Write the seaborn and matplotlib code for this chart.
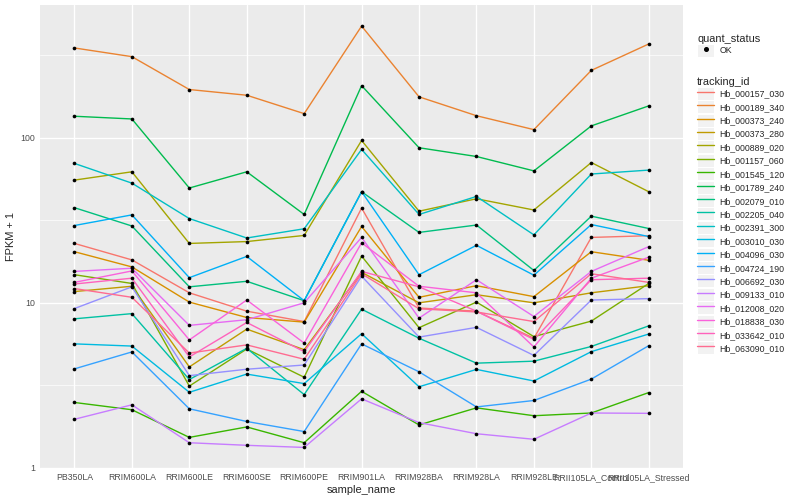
import matplotlib
matplotlib.use("Agg")
import matplotlib.pyplot as plt
from matplotlib.lines import Line2D
from matplotlib.patches import Rectangle
from matplotlib.legend_handler import HandlerLine2D
from matplotlib.ticker import FixedLocator, FixedFormatter
import numpy as np
import pandas as pd
import seaborn as sns

samples = ["PB350LA", "RRIM600LA", "RRIM600LE", "RRIM600SE", "RRIM600PE",
           "RRIM901LA", "RRIM928BA", "RRIM928LA", "RRIM928LE",
           "RRII105LA_Control", "RRII105LA_Stressed"]

tracking_ids = ["Hb_000157_030", "Hb_000189_340", "Hb_000373_240", "Hb_000373_280",
                "Hb_000889_020", "Hb_001157_060", "Hb_001545_120", "Hb_001789_240",
                "Hb_002079_010", "Hb_002205_040", "Hb_002391_300", "Hb_003010_030",
                "Hb_004096_030", "Hb_004724_190", "Hb_006692_030", "Hb_009133_010",
                "Hb_012008_020", "Hb_018838_030", "Hb_033642_010", "Hb_063090_010"]

# FPKM + 1 per sample
hb_000157_030 = [22.9, 18.2, 11.5, 8.9, 7.7, 37.5, 9.3, 8.9, 6.1, 24.9, 25.5]
hb_000189_340 = [350, 310, 196, 181, 140, 475, 177, 136, 112, 256, 370]
hb_000373_240 = [20.4, 16.5, 10.1, 8.15, 7.64, 29.0, 10.8, 12.7, 10.9, 20.4, 18.1]
hb_000373_280 = [11.7, 12.6, 4.09, 6.93, 5.2, 15.3, 10.0, 11.2, 10.0, 11.5, 12.7]
hb_000889_020 = [55.4, 62.2, 22.9, 23.5, 25.6, 96.3, 35.9, 42.7, 36.5, 70.8, 47.1]
hb_001157_060 = [14.8, 13.1, 3.13, 5.25, 3.54, 19.2, 7.07, 10.1, 6.24, 7.75, 13.1]
hb_001545_120 = [2.49, 2.25, 1.53, 1.77, 1.42, 2.91, 1.82, 2.31, 2.07, 2.15, 2.86]
hb_001789_240 = [135, 130, 49.6, 62.2, 34.3, 207, 87, 77, 63, 118, 156]
hb_002079_010 = [37.7, 29.2, 12.5, 13.5, 10.3, 47.1, 26.7, 29.6, 15.7, 33.5, 28.2]
hb_002205_040 = [8.0, 8.6, 3.43, 5.3, 2.78, 9.15, 6.1, 4.31, 4.43, 5.44, 7.25]
hb_002391_300 = [69.9, 53.1, 32.4, 24.7, 28.1, 85, 34.3, 44.1, 25.8, 60.3, 63.7]
hb_003010_030 = [5.64, 5.47, 2.87, 3.70, 3.24, 6.5, 3.1, 3.95, 3.36, 5.06, 6.47]
hb_004096_030 = [29.4, 34.1, 14.2, 19.1, 10.3, 47.1, 14.8, 22.3, 14.7, 29.8, 25.2]
hb_004724_190 = [3.98, 5.04, 2.28, 1.91, 1.66, 5.64, 3.82, 2.34, 2.56, 3.45, 5.5]
hb_006692_030 = [9.23, 12.5, 3.62, 3.96, 4.2, 14.5, 6.2, 7.1, 4.8, 10.4, 10.6]
hb_009133_010 = [1.97, 2.41, 1.42, 1.37, 1.33, 2.62, 1.88, 1.61, 1.49, 2.15, 2.14]
hb_012008_020 = [15.5, 16.2, 7.3, 7.9, 10.0, 24.9, 8.08, 13.8, 8.26, 15.5, 21.9]
hb_018838_030 = [13.3, 15.6, 5.96, 10.4, 5.7, 23.1, 12.6, 11.5, 5.4, 14.1, 18.9]
hb_033642_010 = [13.0, 14.1, 4.7, 7.6, 5.06, 15.5, 12.5, 8.9, 6.0, 13.8, 14.1]
hb_063090_010 = [12.2, 10.8, 4.96, 5.56, 4.55, 15.0, 9.2, 8.8, 7.7, 15.0, 13.3]

palette = ["#F8766D", "#EA8331", "#D89000", "#C09B00", "#A3A500", "#7CAE00", "#39B600",
           "#00BB4E", "#00BF7D", "#00C1A3", "#00BFC4", "#00BAE0", "#00B0F6", "#35A2FF",
           "#9590FF", "#C77CFF", "#E76BF3", "#FA62DB", "#FF62BC", "#FF6C91"]

fpkm = [hb_000157_030, hb_000189_340, hb_000373_240, hb_000373_280, hb_000889_020,
        hb_001157_060, hb_001545_120, hb_001789_240, hb_002079_010, hb_002205_040,
        hb_002391_300, hb_003010_030, hb_004096_030, hb_004724_190, hb_006692_030,
        hb_009133_010, hb_012008_020, hb_018838_030, hb_033642_010, hb_063090_010]

rows = []
for tid, vals in zip(tracking_ids, fpkm):
    for s, v in zip(samples, vals):
        rows.append((tid, s, v))
df = pd.DataFrame(rows, columns=["tracking_id", "sample_name", "fpkm"])

sns.set_style("darkgrid", {"axes.facecolor": "#EBEBEB", "grid.color": "white"})
plt.rcParams["font.family"] = ["Liberation Sans", "DejaVu Sans"]

fig, ax = plt.subplots(figsize=(8, 5), dpi=100)
fig.subplots_adjust(left=0.05, right=0.854, top=0.99, bottom=0.063)

sns.lineplot(data=df, x="sample_name", y="fpkm", hue="tracking_id", hue_order=tracking_ids,
             palette=palette, sort=False, estimator=None, lw=1.0, legend=False, ax=ax)
sns.scatterplot(data=df, x="sample_name", y="fpkm", color="black", s=7, linewidth=0,
                legend=False, ax=ax, zorder=3)

ax.set_yscale("log")
lo, hi = np.log10(df["fpkm"].min()), np.log10(df["fpkm"].max())
pad = 0.05 * (hi - lo)
ax.set_ylim(10 ** (lo - pad), 10 ** (hi + pad))
ax.set_xlim(-0.6, len(samples) - 0.4)

ax.yaxis.set_major_locator(FixedLocator([1, 10, 100]))
ax.yaxis.set_major_formatter(FixedFormatter(["1", "10", "100"]))
ax.yaxis.set_minor_locator(FixedLocator([10 ** 0.5, 10 ** 1.5, 10 ** 2.5]))
ax.grid(which="major", color="white", lw=1.0)
ax.grid(which="minor", axis="y", color="white", lw=0.5)
ax.tick_params(which="major", length=2, width=0.7, color="#333333",
               labelcolor="#4D4D4D", labelsize=6.3, pad=1.5)
ax.tick_params(which="minor", length=0)
for sp in ax.spines.values():
    sp.set_visible(False)

ax.set_xlabel("sample_name", fontsize=7.9, labelpad=2)
ax.set_ylabel("FPKM + 1", fontsize=7.9, labelpad=3)


class KeyHandler(HandlerLine2D):
    def create_artists(self, legend, orig_handle, xdescent, ydescent, width, height,
                       fontsize, trans):
        bg = Rectangle((-xdescent + 0.5, -ydescent + 0.5), width - 1, height - 1,
                       facecolor="#F2F2F2", edgecolor="none", transform=trans)
        arts = super().create_artists(legend, orig_handle, xdescent, ydescent,
                                      width, height, fontsize, trans)
        return [bg] + list(arts)


line_handles = [Line2D([], [], color=c, lw=1.0) for c in palette]
leg2 = ax.legend(line_handles, tracking_ids, title="tracking_id", loc="upper left",
                 bbox_to_anchor=(697 / 800, 1 - 77 / 500), bbox_transform=fig.transFigure,
                 frameon=False, fontsize=6.3, title_fontsize=7.9, handlelength=1.98,
                 handleheight=1.98, labelspacing=0, handletextpad=0.55, borderpad=0,
                 borderaxespad=0, alignment="left",
                 handler_map={Line2D: KeyHandler()})
ax.add_artist(leg2)

pt = Line2D([], [], color="black", marker="o", markersize=2.6, linestyle="None")
ax.legend([pt], ["OK"], title="quant_status", loc="upper left",
          bbox_to_anchor=(697 / 800, 1 - 34 / 500), bbox_transform=fig.transFigure,
          frameon=False, fontsize=6.3, title_fontsize=7.9, handlelength=1.98,
          handleheight=1.98, labelspacing=0, handletextpad=0.55, borderpad=0,
          borderaxespad=0, alignment="left", handler_map={Line2D: KeyHandler()})

fig.savefig("out.png", dpi=100)
